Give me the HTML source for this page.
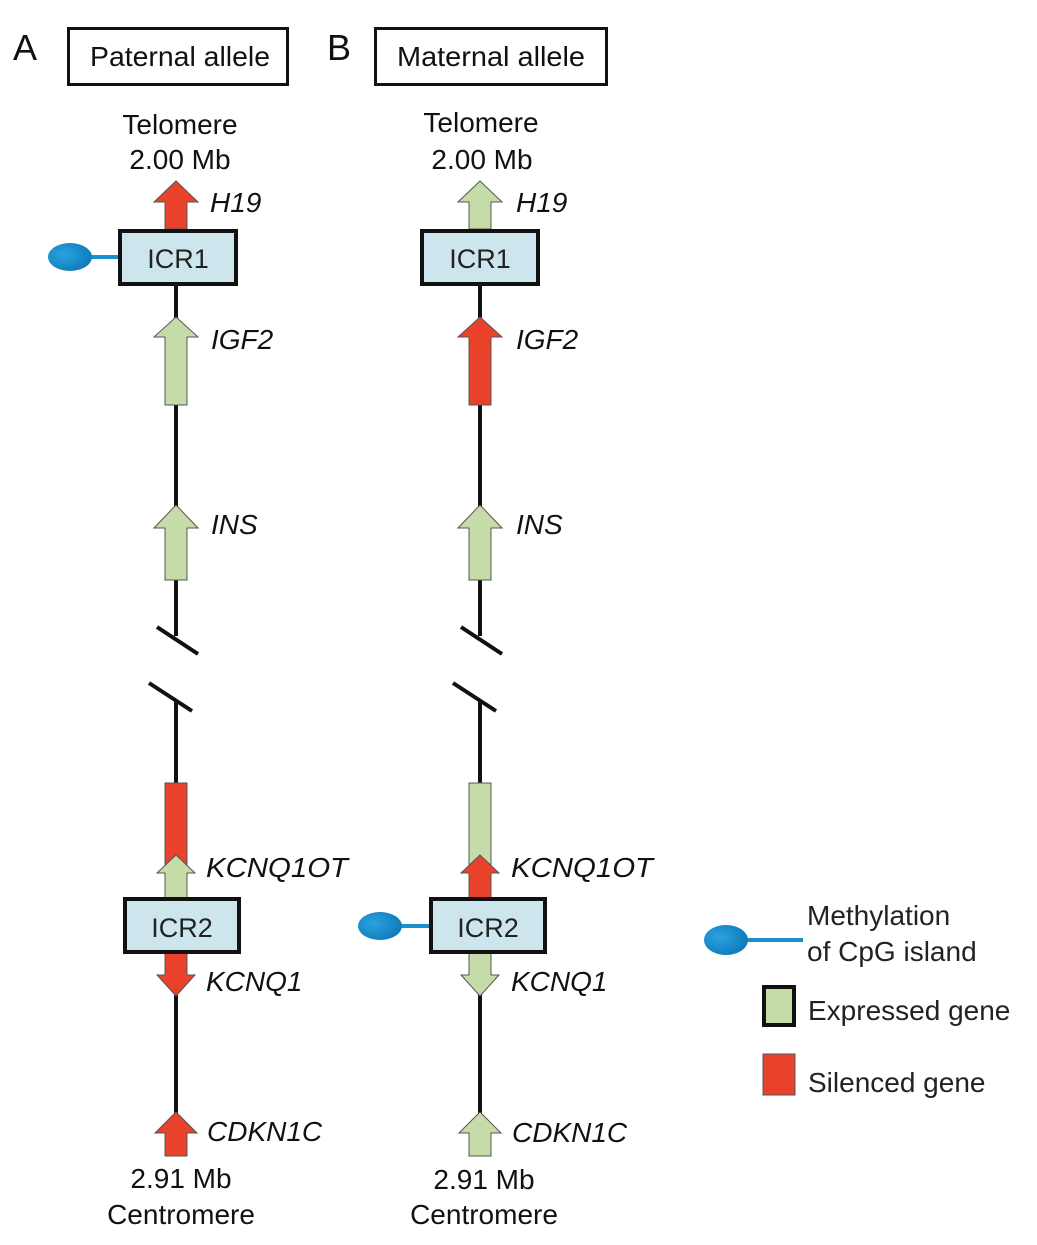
<!DOCTYPE html>
<html><head><meta charset="utf-8"><style>
html,body{margin:0;padding:0;background:#fff;}
svg{display:block;font-family:"Liberation Sans",sans-serif;}
</style></head><body>
<svg width="1037" height="1245" viewBox="0 0 1037 1245" xmlns="http://www.w3.org/2000/svg">
<defs>
<radialGradient id="bl" cx="0.35" cy="0.4" r="0.7"><stop offset="0" stop-color="#2aa3e0"/><stop offset="1" stop-color="#0f78b8"/></radialGradient>
</defs>
<g fill="#111" font-size="36">
<text x="13" y="60">A</text>
<text x="327" y="60">B</text>
</g>
<rect x="68.5" y="28.5" width="219" height="56" fill="#fff" stroke="#111" stroke-width="3"/>
<rect x="375.5" y="28.5" width="231" height="56" fill="#fff" stroke="#111" stroke-width="3"/>
<g fill="#111" font-size="28">
<text x="90" y="66" textLength="180" lengthAdjust="spacingAndGlyphs">Paternal allele</text>
<text x="397" y="66" textLength="188" lengthAdjust="spacingAndGlyphs">Maternal allele</text>
</g>
<g fill="#111" font-size="28" text-anchor="middle">
<text x="180" y="134">Telomere</text>
<text x="180" y="169">2.00 Mb</text>
<text x="481" y="132">Telomere</text>
<text x="482" y="169">2.00 Mb</text>
<text x="181" y="1188">2.91 Mb</text>
<text x="181" y="1224">Centromere</text>
<text x="484" y="1189">2.91 Mb</text>
<text x="484" y="1224">Centromere</text>
</g>
<g stroke="#111" stroke-width="4" fill="none">
<line x1="176" y1="200" x2="176" y2="636"/>
<line x1="176" y1="700" x2="176" y2="1150"/>
<line x1="157" y1="627" x2="198" y2="654"/>
<line x1="149" y1="683" x2="192" y2="711"/>
<line x1="480" y1="200" x2="480" y2="636"/>
<line x1="480" y1="700" x2="480" y2="1150"/>
<line x1="461" y1="627" x2="502" y2="654"/>
<line x1="453" y1="683" x2="496" y2="711"/>
</g>
<g stroke="#555" stroke-width="1">
<polygon points="176,181 198,202 187,202 187,229 165,229 165,202 154,202" fill="#e8432a"/>
<polygon points="176,317 198,337 187,337 187,405 165,405 165,337 154,337" fill="#c5dba8"/>
<polygon points="176,505 198,528 187,528 187,580 165,580 165,528 154,528" fill="#c5dba8"/>
<rect x="165" y="783" width="22" height="90" fill="#e8432a"/>
<polygon points="176,855 195,873 187,873 187,898 165,898 165,873 157,873" fill="#c5dba8"/>
<polygon points="165,953 187,953 187,975 195,975 176,996 157,975 165,975" fill="#e8432a"/>
<polygon points="176,1112 197,1133 187,1133 187,1156 165,1156 165,1133 155,1133" fill="#e8432a"/>
<polygon points="480,181 502,202 491,202 491,229 469,229 469,202 458,202" fill="#c5dba8"/>
<polygon points="480,317 502,337 491,337 491,405 469,405 469,337 458,337" fill="#e8432a"/>
<polygon points="480,505 502,528 491,528 491,580 469,580 469,528 458,528" fill="#c5dba8"/>
<rect x="469" y="783" width="22" height="90" fill="#c5dba8"/>
<polygon points="480,855 499,873 491,873 491,898 469,898 469,873 461,873" fill="#e8432a"/>
<polygon points="469,953 491,953 491,975 499,975 480,996 461,975 469,975" fill="#c5dba8"/>
<polygon points="480,1112 501,1133 491,1133 491,1156 469,1156 469,1133 459,1133" fill="#c5dba8"/>
</g>
<g stroke="#1a8fcf" stroke-width="4">
<line x1="88" y1="257" x2="121" y2="257"/>
<line x1="398" y1="926" x2="432" y2="926"/>
<line x1="745" y1="940" x2="803" y2="940"/>
</g>
<ellipse cx="70" cy="257" rx="22" ry="14" fill="url(#bl)"/>
<ellipse cx="380" cy="926" rx="22" ry="14" fill="url(#bl)"/>
<ellipse cx="726" cy="940" rx="22" ry="15" fill="url(#bl)"/>
<g fill="#cde6ee" stroke="#111" stroke-width="4">
<rect x="120" y="231" width="116" height="53"/>
<rect x="422" y="231" width="116" height="53"/>
<rect x="125" y="899" width="114" height="53"/>
<rect x="431" y="899" width="114" height="53"/>
</g>
<g fill="#222" font-size="27" text-anchor="middle">
<text x="178" y="268">ICR1</text>
<text x="480" y="268">ICR1</text>
<text x="182" y="937">ICR2</text>
<text x="488" y="937">ICR2</text>
</g>
<g fill="#111" font-size="28" font-style="italic">
<text x="210" y="212">H19</text>
<text x="211" y="349">IGF2</text>
<text x="211" y="534">INS</text>
<text x="206" y="877" textLength="142" lengthAdjust="spacingAndGlyphs">KCNQ1OT</text>
<text x="206" y="991">KCNQ1</text>
<text x="207" y="1141">CDKN1C</text>
<text x="516" y="212">H19</text>
<text x="516" y="349">IGF2</text>
<text x="516" y="534">INS</text>
<text x="511" y="877" textLength="142" lengthAdjust="spacingAndGlyphs">KCNQ1OT</text>
<text x="511" y="991">KCNQ1</text>
<text x="512" y="1142">CDKN1C</text>
</g>
<rect x="764" y="987" width="30" height="38" fill="#c5dba8" stroke="#111" stroke-width="4"/>
<rect x="763" y="1054" width="32" height="41" fill="#e8432a" stroke="#555" stroke-width="1"/>
<g fill="#222" font-size="28">
<text x="807" y="925">Methylation</text>
<text x="807" y="961">of CpG island</text>
<text x="808" y="1020">Expressed gene</text>
<text x="808" y="1092">Silenced gene</text>
</g>
</svg>
</body></html>
